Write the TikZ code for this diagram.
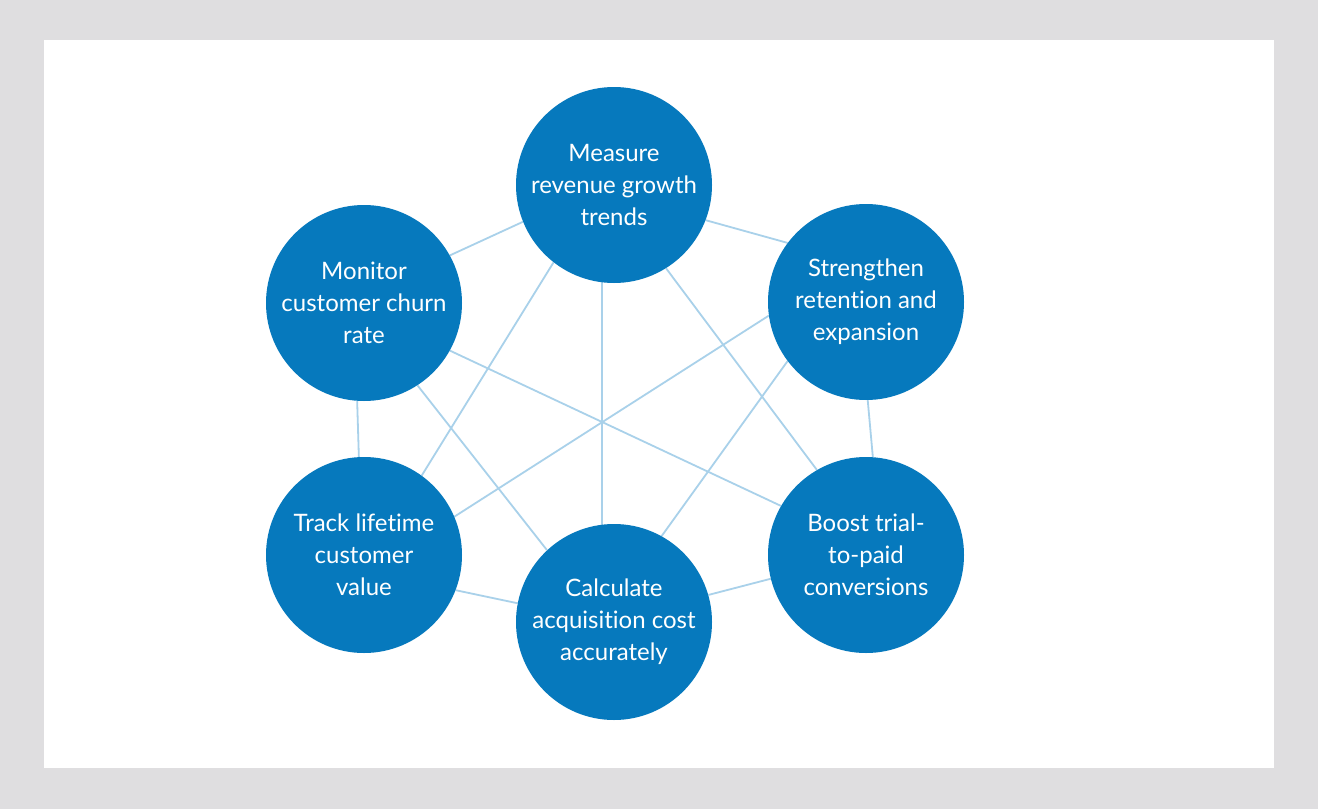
\documentclass[tikz,border=0pt]{standalone}
\usepackage{fontspec}
\setmainfont{Lato}[Ligatures={NoCommon,NoRare}]
\definecolor{bgray}{HTML}{DFDEE0}
\definecolor{cblue}{HTML}{0679BD}
\definecolor{lblue}{HTML}{A9D1EA}
\pgfdeclarelayer{links}
\pgfsetlayers{links,main}
\tikzset{
  goal/.style={circle, fill=cblue, draw=none, minimum size=196pt, inner sep=0pt,
    text=white, align=center, font=\fontsize{24}{32}\selectfont},
  link/.style={draw=lblue, line width=1.8pt}
}
\begin{document}
\begin{tikzpicture}[x=1pt,y=-1pt]
\begin{pgfonlayer}{links}
\fill[bgray] (0,0) rectangle (1318,809);
\fill[white] (44,40) rectangle (1274,768);
\end{pgfonlayer}
\useasboundingbox (0,0) rectangle (1318,809);
\node[goal] (T)  at (614,185) {Measure\\revenue growth\\trends};
\node[goal] (RU) at (866,302) {Strengthen\\retention and\\expansion};
\node[goal] (RL) at (866,555) {Boost trial-\\to-paid\\conversions};
\node[goal] (B)  at (614,622) {Calculate\\acquisition cost\\accurately};
\node[goal] (LL) at (364,555) {Track lifetime\\customer\\value};
\node[goal] (LU) at (364,303) {Monitor\\customer churn\\rate};
\begin{pgfonlayer}{links}
% outer ring
\draw[link] (T.339.6) -- (RU.143.3);
\draw[link] (RU.271) -- (RL.86.6);
\draw[link] (RL.194.3) -- (B.16.5);
\draw[link] (B.169) -- (LL.339);
\draw[link] (LL.93.5) -- (LU.266.5);
\draw[link] (LU.29.6) -- (T.202.4);
% diagonals
\draw[link] (T.263) -- (B.97);
\draw[link] (T.232.7) -- (LL.54.7);
\draw[link] (T.302) -- (RL.120);
\draw[link] (LU.331) -- (RL.150.4);
\draw[link] (RU.188.6) -- (LL.23.3);
\draw[link] (LU.303.7) -- (B.133);
\draw[link] (RU.217) -- (B.61.2);
\end{pgfonlayer}
\end{tikzpicture}
\end{document}
